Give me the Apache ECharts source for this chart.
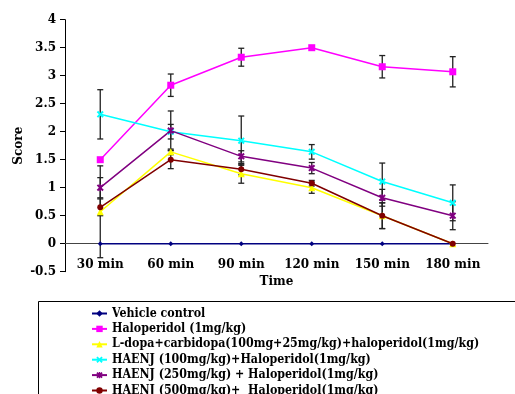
<!DOCTYPE html>
<html>
<head>
<meta charset="utf-8">
<script src="https://cdn.jsdelivr.net/npm/echarts@6/dist/echarts.min.js"></script>
<style>
  html, body { margin: 0; padding: 0; background: #fff; }
  #chart { width: 515px; height: 394px; }
</style>
</head>
<body>
<div id="chart"></div>
<script>
// time points
var categories = ['30 min', '60 min', '90 min', '120 min', '150 min', '180 min'];

// mean scores
var vehicle  = [0, 0, 0, 0, 0, 0];
var halo     = [1.5, 2.83, 3.33, 3.5, 3.16, 3.07];
var ldopa    = [0.57, 1.64, 1.25, 1.0, 0.5, 0];
var haenj100 = [2.31, 2.0, 1.84, 1.64, 1.11, 0.73];
var haenj250 = [1.0, 2.02, 1.56, 1.35, 0.82, 0.5];
var haenj500 = [0.65, 1.5, 1.33, 1.08, 0.5, 0];

// error bar half-lengths
var vehicleErr  = [0, 0, 0, 0, 0, 0];
var haloErr     = [0, 0.2, 0.16, 0, 0.2, 0.27];
var ldopaErr    = [0.82, 0.05, 0.17, 0.1, 0.23, 0];
var haenj100Err = [0.44, 0.13, 0.44, 0.13, 0.33, 0.32];
var haenj250Err = [0.18, 0.35, 0.1, 0.1, 0.15, 0.25];
var haenj500Err = [0.15, 0.16, 0.1, 0.05, 0.23, 0];

var names = [
  'Vehicle control',
  'Haloperidol (1mg/kg)',
  'L-dopa+carbidopa(100mg+25mg/kg)+haloperidol(1mg/kg)',
  'HAENJ (100mg/kg)+Haloperidol(1mg/kg)',
  'HAENJ (250mg/kg) + Haloperidol(1mg/kg)',
  'HAENJ (500mg/kg)+  Haloperidol(1mg/kg)'
];

var font = 'DejaVu Serif';
var xShape = 'path://M2,0L5,3L8,0L10,2L7,5L10,8L8,10L5,7L2,10L0,8L3,5L0,2Z';
var starShape = 'path://M2,0L5,3L8,0L10,2L7,5L10,8L8,10L5,7L2,10L0,8L3,5L0,2Z M4,0L6,0L6,10L4,10Z';

var groups = [
  { data: vehicle,  err: vehicleErr,  color: '#000080', symbol: 'diamond',  size: 5 },
  { data: halo,     err: haloErr,     color: '#ff00ff', symbol: 'rect',     size: 7 },
  { data: ldopa,    err: ldopaErr,    color: '#ffff00', symbol: 'triangle', size: 7 },
  { data: haenj100, err: haenj100Err, color: '#00ffff', symbol: xShape,     size: 7 },
  { data: haenj250, err: haenj250Err, color: '#800080', symbol: starShape,  size: 7 },
  { data: haenj500, err: haenj500Err, color: '#800000', symbol: 'circle',   size: 6 }
];

function errBars(params, api) {
  var i = api.value(0), v = api.value(1), e = api.value(2);
  if (!e) return null;
  var top = api.coord([i, v + e]);
  var bot = api.coord([i, v - e]);
  var st = { stroke: '#222', lineWidth: 1.3 };
  return {
    type: 'group',
    children: [
      { type: 'line', shape: { x1: top[0], y1: top[1], x2: bot[0], y2: bot[1] }, style: st },
      { type: 'line', shape: { x1: top[0] - 3, y1: top[1], x2: top[0] + 3, y2: top[1] }, style: st },
      { type: 'line', shape: { x1: bot[0] - 3, y1: bot[1], x2: bot[0] + 3, y2: bot[1] }, style: st }
    ]
  };
}

var series = [];
groups.forEach(function (g, k) {
  series.push({
    type: 'custom',
    name: names[k] + ' err',
    renderItem: errBars,
    z: 1,
    silent: true,
    data: g.data.map(function (v, i) { return [i, v, g.err[i]]; })
  });
});
groups.forEach(function (g, k) {
  series.push({
    type: 'line',
    name: names[k],
    data: g.data,
    z: 3,
    color: g.color,
    symbol: g.symbol,
    symbolSize: g.size,
    showAllSymbol: true,
    lineStyle: { width: 1.5, color: g.color },
    itemStyle: { color: g.color }
  });
});

var chart = echarts.init(document.getElementById('chart'));
chart.setOption({
  animation: false,
  backgroundColor: '#fff',
  grid: { left: 65, right: 27, top: 19.7, bottom: 122.3 },
  xAxis: {
    type: 'category',
    data: categories,
    name: 'Time',
    nameLocation: 'middle',
    nameGap: 32,
    nameMoveOverlap: false,
    offset: -28,
    nameTextStyle: { fontFamily: font, fontWeight: 'bold', fontSize: 12, color: '#000' },
    axisLine: { onZero: false, lineStyle: { color: '#444', width: 1 } },
    axisTick: { length: 5, lineStyle: { color: '#444' } },
    axisLabel: { interval: 0, margin: 15, fontFamily: font, fontWeight: 'bold', fontSize: 12, color: '#000' }
  },
  yAxis: {
    type: 'value',
    min: -0.5,
    max: 4,
    interval: 0.5,
    name: 'Score',
    nameLocation: 'middle',
    nameRotate: 90,
    nameGap: 40,
    nameMoveOverlap: false,
    nameTextStyle: { fontFamily: font, fontWeight: 'bold', fontSize: 12, color: '#000' },
    splitLine: { show: false },
    axisLine: { show: true, lineStyle: { color: '#000', width: 1 } },
    axisTick: { show: true, length: 5, lineStyle: { color: '#000' } },
    axisLabel: { margin: 9, fontFamily: font, fontWeight: 'bold', fontSize: 12, color: '#000' }
  },
  legend: {
    data: names,
    orient: 'vertical',
    left: 86,
    top: 302,
    height: 300,
    itemWidth: 15,
    itemHeight: 8,
    itemGap: 2.4,
    textStyle: { fontFamily: 'DejaVu Serif Condensed', fontWeight: 'bold', fontSize: 12.3, lineHeight: 13, color: '#000' }
  },
  graphic: [{
    type: 'rect',
    shape: { x: 38.5, y: 301.5, width: 600, height: 200 },
    style: { fill: 'none', stroke: '#000', lineWidth: 1 },
    z: -1
  }],
  series: series
});
</script>
</body>
</html>
